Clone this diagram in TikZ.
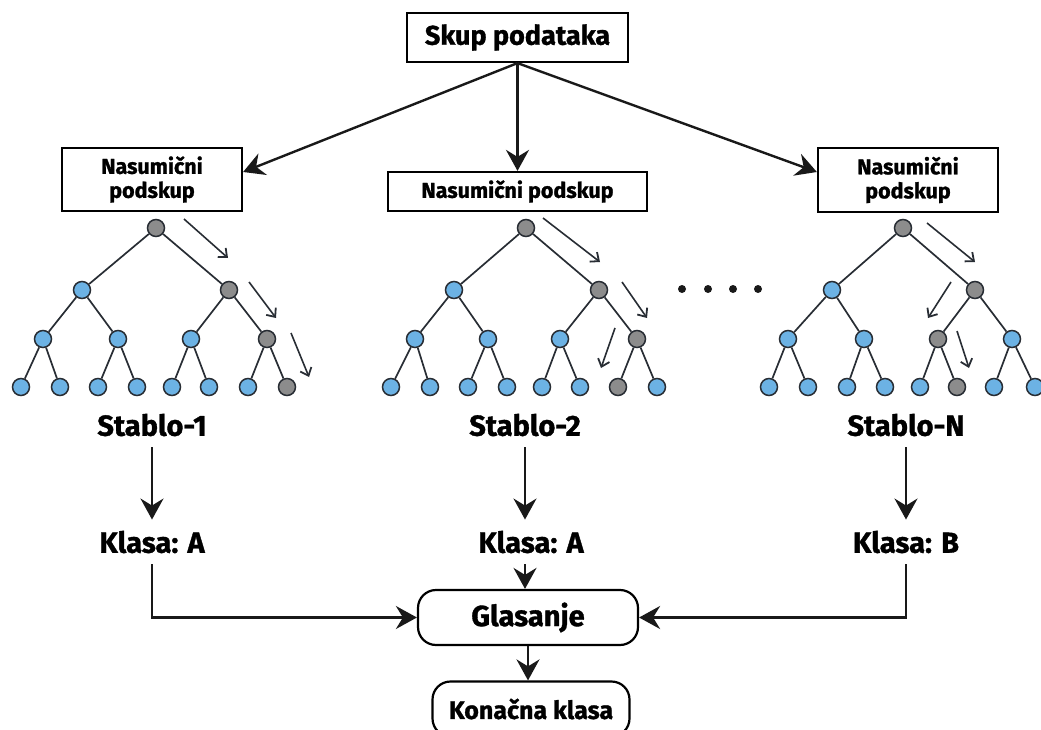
\documentclass[tikz,border=0pt]{standalone}
\usepackage{fontspec}
\setmainfont{Fira Sans}[BoldFeatures={FakeBold=1.2}]
\usetikzlibrary{arrows.meta,calc}
\definecolor{leafblue}{RGB}{108,178,228}
\definecolor{pathgray}{RGB}{140,140,140}
\definecolor{edgedark}{RGB}{40,45,52}
\begin{document}
\begin{tikzpicture}[x=1pt,y=-1pt,
  box/.style={draw=black, line width=2.2pt, fill=white, align=center, inner sep=0pt,
    font=\bfseries\fontsize{21.5}{24}\selectfont},
  rbox/.style={draw=black, line width=2.2pt, fill=white, rounded corners=18pt, inner sep=0pt,
    font=\bfseries\fontsize{29}{32}\selectfont},
  lbl/.style={inner xsep=0pt, inner ysep=11pt, font=\bfseries\fontsize{29}{32}\selectfont},
  arr/.style={draw=black!90, line width=2.4pt, -{Stealth[length=21pt,width=23pt,inset=7pt]}},
  edge/.style={draw=edgedark, line width=1.7pt},
  parr/.style={draw=edgedark, line width=1.6pt, -{Straight Barb[length=7pt,width=12pt,line width=1.8pt]}},
  bn/.style={circle, draw=edgedark, line width=1.5pt, fill=leafblue, minimum size=17pt, inner sep=0pt},
  gn/.style={circle, draw=edgedark, line width=1.5pt, fill=pathgray, minimum size=17pt, inner sep=0pt},
  dotn/.style={circle, fill=black!90, minimum size=8pt, inner sep=0pt}
]
\useasboundingbox (0,0) rectangle (1041,730);

% ---------- top boxes ----------
\node[box, minimum width=221pt, minimum height=49pt, font=\bfseries\fontsize{27}{30}\selectfont] (top) at (517.5,37.5) {Skup podataka};
\node[box, minimum width=180pt, minimum height=63pt] (lbox) at (152,179.5) {Nasumični\\podskup};
\node[box, minimum width=259pt, minimum height=39pt] (mbox) at (517.5,191.5) {Nasumični podskup};
\node[box, minimum width=180pt, minimum height=64pt] (rbox) at (908,180) {Nasumični\\podskup};

\draw[arr] (top.south) -- ([yshift=7.5pt]lbox.east);
\draw[arr] (top.south) -- (mbox.north);
\draw[arr] (top.south) -- ([yshift=8pt]rbox.west);

% ---------- tree 1 ----------
\node[gn] (t1-r) at (156,228) {};
\node[bn] (t1-a) at (82,290) {};
\node[gn] (t1-b) at (229,290) {};
\node[bn] (t1-c) at (43,339) {};
\node[bn] (t1-d) at (118,339) {};
\node[bn] (t1-e) at (191,339) {};
\node[gn] (t1-f) at (267,339) {};
\foreach \n/\x in {1/21,2/60,3/98,4/137,5/172,6/209,7/248}
  \node[bn] (t1-l\n) at (\x,387) {};
\node[gn] (t1-l8) at (287,387) {};

% ---------- tree 2 ----------
\node[gn] (t2-r) at (526,228) {};
\node[bn] (t2-a) at (454,290) {};
\node[gn] (t2-b) at (599,290) {};
\node[bn] (t2-c) at (415,339) {};
\node[bn] (t2-d) at (488,339) {};
\node[bn] (t2-e) at (560,339) {};
\node[gn] (t2-f) at (637,339) {};
\foreach \n/\x in {1/391,2/430,3/468,4/507,5/542,6/580,8/657}
  \node[bn] (t2-l\n) at (\x,387) {};
\node[gn] (t2-l7) at (618,387) {};

% ---------- tree 3 ----------
\node[gn] (t3-r) at (903,228) {};
\node[bn] (t3-a) at (832,290) {};
\node[gn] (t3-b) at (975,290) {};
\node[bn] (t3-c) at (788,339) {};
\node[bn] (t3-d) at (864,339) {};
\node[gn] (t3-e) at (938,339) {};
\node[bn] (t3-f) at (1012,339) {};
\foreach \n/\x in {1/769,2/808,3/847,4/885,5/920,7/994,8/1035}
  \node[bn] (t3-l\n) at (\x,387) {};
\node[gn] (t3-l6) at (957,387) {};

% ---------- tree edges ----------
\foreach \t in {1,2,3}{
  \foreach \p/\c in {r/a,r/b,a/c,a/d,b/e,b/f,c/l1,c/l2,d/l3,d/l4,e/l5,e/l6,f/l7,f/l8}
    \draw[edge] (t\t-\p) -- (t\t-\c);
}

% ---------- path arrows ----------
\coordinate (p11s) at (184,219); \coordinate (p11e) at (228,258);
\coordinate (p12s) at (249,282); \coordinate (p12e) at (276,318);
\coordinate (p13s) at (291,333); \coordinate (p13e) at (309,377);
\coordinate (p21s) at (543,218); \coordinate (p21e) at (600,262);
\coordinate (p22s) at (622,282); \coordinate (p22e) at (647,318);
\coordinate (p23s) at (615,328); \coordinate (p23e) at (601,368);
\coordinate (p31s) at (927,223); \coordinate (p31e) at (975,262);
\coordinate (p32s) at (951,282); \coordinate (p32e) at (928,318);
\coordinate (p33s) at (957,331); \coordinate (p33e) at (969,368);
\foreach \t in {1,2,3}{
  \foreach \k in {1,2,3}
    \draw[parr] (p\t\k s) -- (p\t\k e);
}

% ---------- dots ----------
\foreach \n/\x in {1/682,2/708,3/733,4/758}
  \node[dotn] (dot\n) at (\x,289) {};

% ---------- labels ----------
\node[lbl] (s1) at (152,425) {Stablo-1};
\node[lbl] (s2) at (525,425) {Stablo-2};
\node[lbl] (s3) at (906,425) {Stablo-N};
\node[lbl] (k1) at (152,542) {Klasa: A};
\node[lbl] (k2) at (531,542) {Klasa: A};
\node[lbl] (k3) at (906,542) {Klasa: B};

\node[rbox, minimum width=220pt, minimum height=55pt] (g) at (528,617.5) {Glasanje};
\node[rbox, minimum width=197pt, minimum height=55pt, font=\bfseries\fontsize{25}{28}\selectfont] (kon) at (531,709) {Konačna klasa};

\draw[arr] (s1.south) -- (k1.north);
\draw[arr] (s2.south) -- (s2.south |- k2.north);
\draw[arr] (s3.south) -- (k3.north);
\draw[arr] (s2.south |- k2.south) -- (s2.south |- g.north);
\draw[arr] (k1.south) |- (g.west);
\draw[arr] (k3.south) |- (g.east);
\draw[arr] (g.south) -- (g.south |- kon.north);
\end{tikzpicture}
\end{document}
